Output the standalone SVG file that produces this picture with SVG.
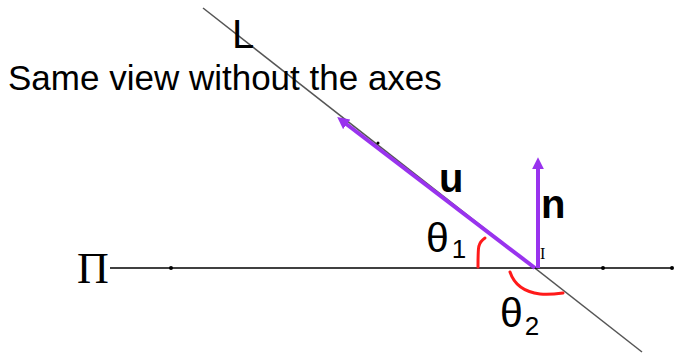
<svg xmlns="http://www.w3.org/2000/svg" width="675" height="358" viewBox="0 0 675 358">
<defs>
<style>
.sans{font-family:"Liberation Sans",Arial,sans-serif;fill:#000}
.serif{font-family:"Liberation Serif","Times New Roman",serif;fill:#000}
.vec{stroke:#9933ee;stroke-width:4;fill:none}
.arc{stroke:#ff1a1a;stroke-width:3;fill:none;stroke-linecap:round}
.dot{fill:#000}
</style>
<marker id="ah" viewBox="0 0 10 10" refX="6" refY="5" markerWidth="3" markerHeight="3" orient="auto-start-reverse" markerUnits="strokeWidth">
<path d="M0,0 L10,5 L0,10 z" fill="#9933ee"/>
</marker>
</defs>
<rect width="675" height="358" fill="#fff"/>
<g id="lines">
<line id="lineL" x1="203" y1="8" x2="642" y2="352" stroke="#555" stroke-width="1.5"/>
<line id="planePi" x1="110" y1="268" x2="673" y2="268" stroke="#000" stroke-width="1.5"/>
<circle class="dot" cx="171" cy="268" r="2"/>
<circle class="dot" cx="603" cy="268" r="2"/>
<circle class="dot" cx="672" cy="268" r="2"/>
<circle class="dot" cx="378" cy="143" r="1.5"/>
</g>
<g id="vectors">
<line id="u" class="vec" x1="535" y1="268" x2="341" y2="120" marker-end="url(#ah)"/>
<line id="n" class="vec" x1="538" y1="268" x2="538" y2="162" marker-end="url(#ah)"/>
</g>
<g id="angles">
<path class="arc" d="M478,267 C478,258 478,248 479,246 C480,242 482,240 485,238"/>
<path class="arc" d="M510,272 C514,284 524,292 540,294 C548,295 556,294 563,293"/>
</g>
<g id="labels">
<text class="sans" x="232" y="48" font-size="40">L</text>
<text class="sans" x="8" y="90" font-size="35">Same view without the axes</text>
<text class="sans" x="439" y="192" font-size="40" font-weight="bold">u</text>
<text class="sans" x="541" y="218" font-size="40" font-weight="bold">n</text>
<text class="sans" x="426" y="252" font-size="41">θ<tspan font-size="26" dx="3" dy="6">1</tspan></text>
<text class="sans" x="500" y="327" font-size="41">θ<tspan font-size="26" dx="2" dy="8">2</tspan></text>
<text class="serif" x="77" y="283" font-size="44">Π</text>
<text class="serif" x="540" y="259" font-size="16" fill="#333">I</text>
</g>
</svg>
